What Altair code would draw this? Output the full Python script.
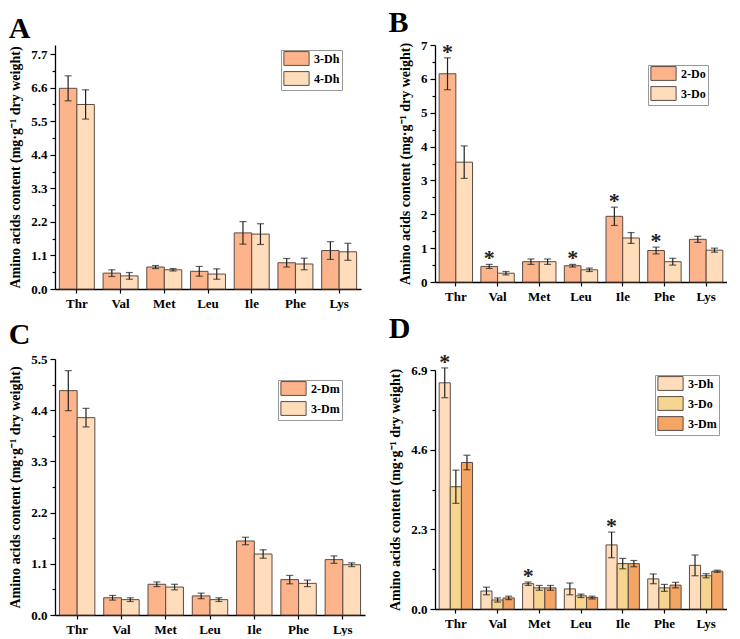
import altair as alt
import pandas as pd

FONT = "Liberation Serif"
aminos = ["Thr", "Val", "Met", "Leu", "Ile", "Phe", "Lys"]

# Panel A
A_groups = ["3-Dh", "4-Dh"]
A_3Dh = [6.58, 0.52, 0.72, 0.58, 1.84, 0.86, 1.26]
A_3Dh_err = [0.41, 0.11, 0.05, 0.16, 0.37, 0.14, 0.29]
A_4Dh = [6.05, 0.43, 0.63, 0.49, 1.80, 0.82, 1.22]
A_4Dh_err = [0.48, 0.11, 0.04, 0.17, 0.34, 0.19, 0.28]

# Panel B
B_groups = ["2-Do", "3-Do"]
B_2Do = [6.15, 0.46, 0.60, 0.48, 1.94, 0.93, 1.26]
B_2Do_err = [0.47, 0.06, 0.08, 0.04, 0.27, 0.10, 0.09]
B_3Do = [3.54, 0.26, 0.60, 0.36, 1.30, 0.60, 0.94]
B_3Do_err = [0.48, 0.05, 0.08, 0.05, 0.16, 0.10, 0.06]
B_star_2Do = [1, 1, 0, 1, 1, 1, 0]

# Panel C
C_groups = ["2-Dm", "3-Dm"]
C_2Dm = [4.82, 0.37, 0.66, 0.41, 1.59, 0.76, 1.19]
C_2Dm_err = [0.43, 0.05, 0.05, 0.06, 0.08, 0.09, 0.08]
C_3Dm = [4.24, 0.33, 0.60, 0.33, 1.31, 0.68, 1.08]
C_3Dm_err = [0.20, 0.04, 0.06, 0.04, 0.09, 0.07, 0.04]

# Panel D
D_groups = ["3-Dh", "3-Do", "3-Dm"]
D_3Dh = [6.53, 0.52, 0.73, 0.58, 1.85, 0.87, 1.26]
D_3Dh_err = [0.43, 0.11, 0.05, 0.17, 0.37, 0.14, 0.30]
D_3Do = [3.53, 0.26, 0.61, 0.38, 1.31, 0.61, 0.96]
D_3Do_err = [0.48, 0.06, 0.07, 0.05, 0.15, 0.10, 0.06]
D_3Dm = [4.23, 0.32, 0.61, 0.33, 1.31, 0.69, 1.09]
D_3Dm_err = [0.21, 0.05, 0.07, 0.04, 0.09, 0.08, 0.03]
D_star_3Dh = [1, 0, 1, 0, 1, 0, 0]

A_major = [0.0, 1.1, 2.2, 3.3, 4.4, 5.5, 6.6, 7.7]
A_minor = [0.55, 1.65, 2.75, 3.85, 4.95, 6.05, 7.15]
B_major = [0, 1, 2, 3, 4, 5, 6, 7]
B_minor = [0.5, 1.5, 2.5, 3.5, 4.5, 5.5, 6.5]
C_major = [0.0, 1.1, 2.2, 3.3, 4.4, 5.5]
C_minor = [0.55, 1.65, 2.75, 3.85, 4.95]
D_major = [0.0, 2.3, 4.6, 6.9]
D_minor = [1.15, 3.45, 5.75]

C_DARK = "#FDB48A"
C_LIGHT = "#FFDDBA"
C_YEL = "#F6D590"
C_ORANGE = "#F4A463"
STROKE = "#5c4b43"

YTITLE = "Amino acids content (mg·g⁻¹ dry weight)"


def make_df(groups, series, errs, stars=None):
    rows = []
    for gi, g in enumerate(groups):
        for i, a in enumerate(aminos):
            s = ""
            if stars is not None and stars[gi] is not None and stars[gi][i]:
                s = "*"
            rows.append({"amino": a, "group": g, "value": series[gi][i],
                         "err": errs[gi][i], "star": s})
    return pd.DataFrame(rows)


def panel(letter, df, groups, colors, major, minor, fmt, ymax, width, height,
          lx, ly, toff, tdx=0):
    majors_js = "[" + ",".join(str(v) for v in major) + "]"
    yaxis = alt.Axis(
        values=sorted(major + minor),
        labelExpr=f"indexof({majors_js}, datum.value) >= 0 ? format(datum.value, '{fmt}') : ''",
        tickSize={"condition": {"test": f"indexof({majors_js}, datum.value) < 0", "value": 3}, "value": 5},
        title=YTITLE, grid=False, labelPadding=3, titlePadding=8,
    )
    yscale = alt.Scale(domain=[0, ymax], nice=False, zero=True)
    xenc = alt.X("amino:N", sort=aminos, title=None,
                 scale=alt.Scale(paddingInner=0.2, paddingOuter=0.1),
                 axis=alt.Axis(labelAngle=0, ticks=True, tickSize=4, labelPadding=4))
    xoff = alt.XOffset("group:N", sort=groups,
                       scale=alt.Scale(paddingInner=0, paddingOuter=0))
    base = alt.Chart(df).encode(x=xenc, xOffset=xoff).transform_calculate(
        lo="datum.value - datum.err", hi="datum.value + datum.err")
    legend = alt.Legend(
        orient="none", legendX=lx, legendY=ly, title=None,
        symbolType="M-2.1,-1.15H2.1V1.15H-2.1Z", symbolSize=144,
        symbolStrokeColor=STROKE, symbolStrokeWidth=1, symbolOpacity=1,
        symbolOffset=7, labelOffset=11, rowPadding=1,
        labelFont=FONT, labelFontSize=12, labelFontWeight="bold", labelColor="black",
        strokeColor="#999", fillColor="white", padding=2,
    )
    bars = base.mark_bar(stroke=STROKE, strokeWidth=1).encode(
        y=alt.Y("value:Q", scale=yscale, axis=yaxis),
        color=alt.Color("group:N", sort=groups,
                        scale=alt.Scale(domain=groups, range=colors), legend=legend),
    )
    rule = base.mark_rule(color="#222", strokeWidth=1.2).encode(
        y=alt.Y("lo:Q", scale=yscale, axis=yaxis), y2="hi:Q")
    cap_hi = base.mark_tick(color="#222", size=7, thickness=1.2).encode(
        y=alt.Y("hi:Q", scale=yscale, axis=yaxis))
    cap_lo = base.mark_tick(color="#222", size=7, thickness=1.2).encode(
        y=alt.Y("lo:Q", scale=yscale, axis=yaxis))
    star = base.transform_filter("datum.star == '*'").mark_text(
        text="*", fontSize=22, font=FONT, fontWeight="bold", baseline="middle",
        dy=-6, color="#222"
    ).encode(y=alt.Y("hi:Q", scale=yscale, axis=yaxis))
    return alt.layer(bars, rule, cap_hi, cap_lo, star).properties(
        width=width, height=height,
        title=alt.TitleParams(letter, anchor="start", font=FONT, fontSize=30,
                              fontWeight="bold", color="black", offset=toff, dx=tdx),
    ).resolve_scale(color="independent")


dfA = make_df(A_groups, [A_3Dh, A_4Dh], [A_3Dh_err, A_4Dh_err])
dfB = make_df(B_groups, [B_2Do, B_3Do], [B_2Do_err, B_3Do_err], [B_star_2Do, None])
dfC = make_df(C_groups, [C_2Dm, C_3Dm], [C_2Dm_err, C_3Dm_err])
dfD = make_df(D_groups, [D_3Dh, D_3Do, D_3Dm], [D_3Dh_err, D_3Do_err, D_3Dm_err],
              [D_star_3Dh, None, None])

pA = panel("A", dfA, A_groups, [C_DARK, C_LIGHT], A_major, A_minor, ".1f", 8.0,
           306, 244, 226, 5, 1)
pB = panel("B", dfB, B_groups, [C_DARK, C_LIGHT], B_major, B_minor, "d", 7.0,
           292, 237, 213, 20, 1, -10)
pC = panel("C", dfC, C_groups, [C_DARK, C_LIGHT], C_major, C_minor, ".1f", 5.5,
           310, 256, 223, 21, 3)
pD = panel("D", dfD, D_groups, [C_LIGHT, C_YEL, C_ORANGE], D_major, D_minor, ".1f", 6.9,
           292, 239, 220, 5, 7)

IND = dict(color="independent", y="independent", x="independent", xOffset="independent")
left = alt.vconcat(pA, pC, spacing=10).resolve_scale(**IND)
right = alt.vconcat(pB, pD, spacing=10).resolve_scale(**IND)
chart = alt.hconcat(left, right, spacing=23).resolve_scale(**IND).configure(
    padding=0
).configure_view(stroke=None).configure_axis(
    labelFont=FONT, labelFontSize=13, labelFontWeight="bold", labelColor="black",
    titleFont=FONT, titleFontSize=14, titleFontWeight="bold", titleColor="black",
    domainColor="black", domainWidth=1.3, tickColor="black", tickWidth=1.2,
)

chart.save("out.html", embed_options={"renderer": "svg", "actions": False})
